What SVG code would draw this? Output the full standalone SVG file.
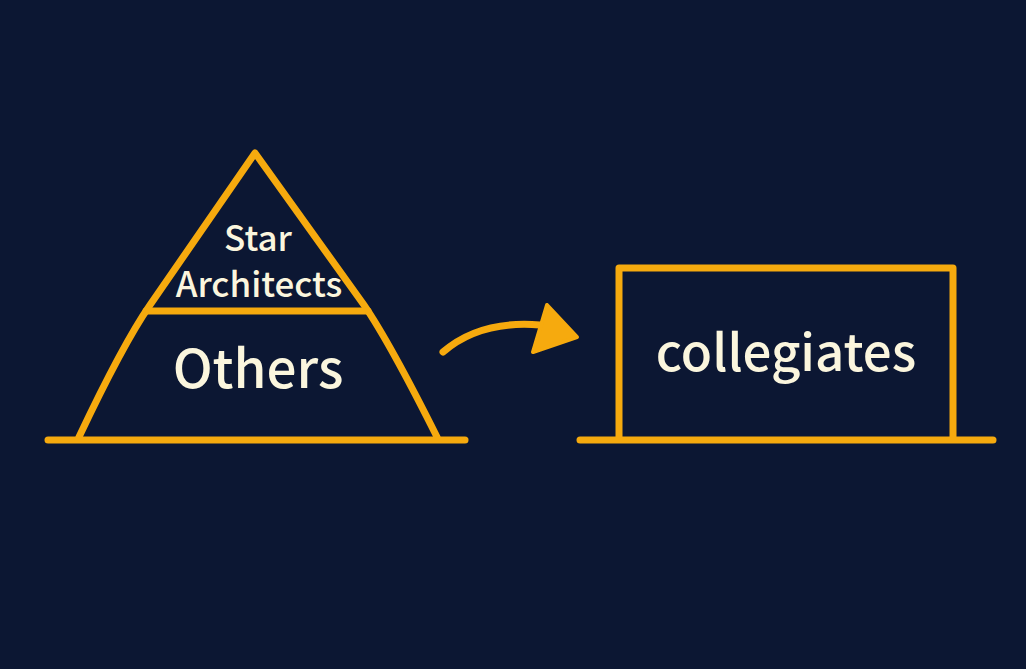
<svg xmlns="http://www.w3.org/2000/svg" width="1026" height="669" viewBox="0 0 1026 669">
<style>
.ln{fill:none;stroke:#F6AA0E;stroke-width:7;stroke-linecap:round;stroke-linejoin:round}
.t{fill:#FBF6DE;font-family:"Noto Sans CJK JP","Noto Sans",sans-serif;text-anchor:middle;font-weight:500}
</style>
<rect width="1026" height="669" fill="#0C1733"/>
<g id="pyramid">
<path class="ln" d="M79,437 Q123,344 150,305 L255,153 L364,305 Q390,343 437,437"/>
<line class="ln" x1="146" y1="311" x2="368" y2="311"/>
<line class="ln" x1="48" y1="440" x2="465" y2="440"/>
<text class="t" x="258" y="251" font-size="35">Star</text>
<text class="t" x="259" y="297" font-size="35">Architects</text>
<text class="t" x="258" y="388" font-size="53">Others</text>
</g>
<g id="connectors">
<path class="ln" d="M443,352 Q480,320 540,325" stroke-width="8"/>
<path d="M547,305 L577,337 L533,352 Z" fill="#F6AA0E" stroke="#F6AA0E" stroke-width="4" stroke-linejoin="round"/>
</g>
<g id="collegiates">
<path class="ln" d="M619,438 L619,268 L953,268 L953,438"/>
<line class="ln" x1="580" y1="440" x2="993" y2="440"/>
<text class="t" x="786" y="371" font-size="51">collegiates</text>
</g>
</svg>
